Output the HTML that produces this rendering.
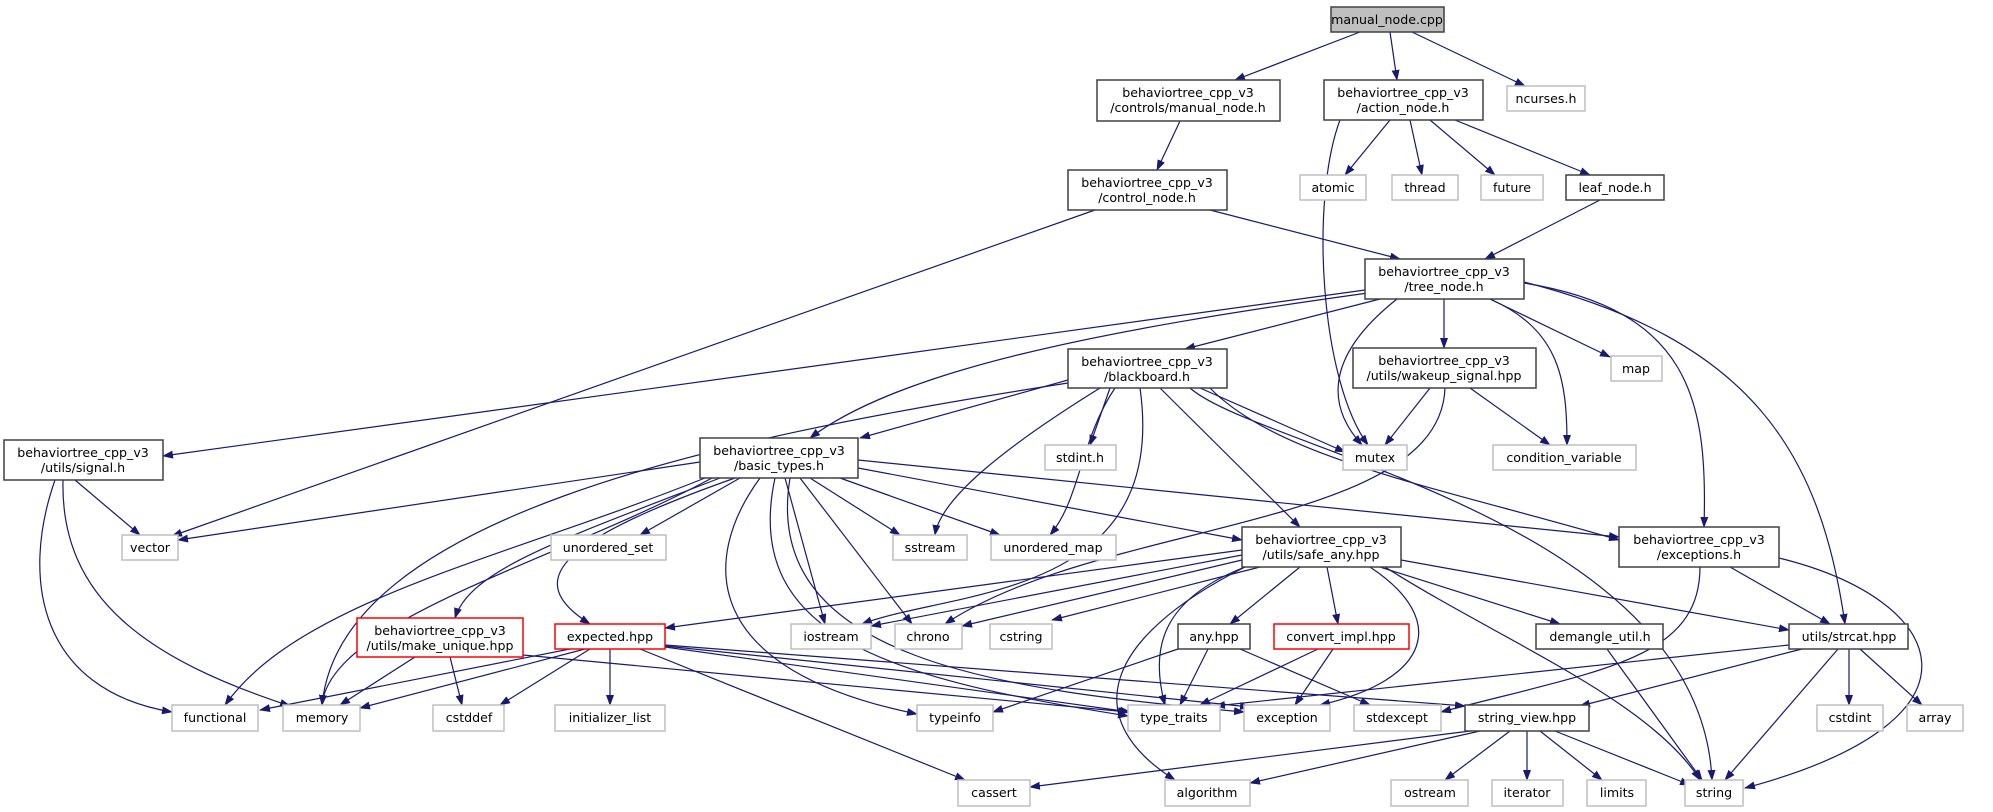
<!DOCTYPE html>
<html><head><meta charset="utf-8"><style>
html,body{margin:0;padding:0;background:#fff;}
svg{display:block;}
text{font-family:"DejaVu Sans","Liberation Sans",sans-serif;font-size:12.6px;fill:#000;text-anchor:middle;}
.e{fill:none;stroke:#191970;stroke-width:1.2;marker-end:url(#a);}
.g{fill:#fff;stroke:#bfbfbf;stroke-width:1.5;}
.d{fill:#fff;stroke:#404040;stroke-width:1.5;}
.r{fill:#fff;stroke:#ff0000;stroke-width:1.5;}
</style></head><body>
<svg width="1993" height="812" viewBox="0 0 1993 812" xmlns="http://www.w3.org/2000/svg">
<defs><marker id="a" markerWidth="11" markerHeight="8" refX="10" refY="4" orient="auto" markerUnits="userSpaceOnUse"><path d="M0,0 L11,4 L0,8 z" fill="#191970"/></marker></defs>
<g>
<path class="e" d="M1360,32 L1235,80"/>
<path class="e" d="M1390,32 L1397,80"/>
<path class="e" d="M1412,32 L1525,86"/>
<path class="e" d="M1180,121 L1157,170"/>
<path class="e" d="M1095,210 L172,536"/>
<path class="e" d="M1210,210 L1400,259"/>
<path class="e" d="M1340,120 C1310,200 1320,380 1368,445"/>
<path class="e" d="M1390,120 L1345,175"/>
<path class="e" d="M1410,120 L1422,175"/>
<path class="e" d="M1430,120 L1495,175"/>
<path class="e" d="M1455,120 L1590,175"/>
<path class="e" d="M1600,200 L1485,259"/>
<path class="e" d="M1365,290 L163,456"/>
<path class="e" d="M1368,293 C1100,330 900,370 810,438"/>
<path class="e" d="M1380,299 L1185,349"/>
<path class="e" d="M1397,299 C1320,360 1330,410 1362,445"/>
<path class="e" d="M1444,299 L1444,348"/>
<path class="e" d="M1490,299 C1560,330 1567,380 1567,445"/>
<path class="e" d="M1490,299 L1610,357"/>
<path class="e" d="M1524,283 C1690,310 1708,400 1704,527"/>
<path class="e" d="M1524,282 C1750,340 1820,450 1845,624"/>
<path class="e" d="M1068,380 L860,438"/>
<path class="e" d="M1068,383 C700,440 340,520 322,705"/>
<path class="e" d="M1110,388 L1090,445"/>
<path class="e" d="M1100,388 C1000,450 940,500 935,535"/>
<path class="e" d="M1115,388 C1080,440 1080,500 1050,535"/>
<path class="e" d="M1200,388 L1345,452"/>
<path class="e" d="M1160,388 L1300,527"/>
<path class="e" d="M1210,388 C1280,460 1450,490 1619,540"/>
<path class="e" d="M1190,388 C1260,450 1700,520 1712,780"/>
<path class="e" d="M1140,388 C1170,600 950,590 862,624"/>
<path class="e" d="M1430,388 L1385,445"/>
<path class="e" d="M1470,388 L1550,445"/>
<path class="e" d="M1445,388 C1440,530 1100,520 945,624"/>
<path class="e" d="M75,480 L140,535"/>
<path class="e" d="M63,480 C60,600 150,660 290,706"/>
<path class="e" d="M55,480 C20,580 40,690 172,712"/>
<path class="e" d="M700,462 L178,540"/>
<path class="e" d="M740,478 L640,535"/>
<path class="e" d="M810,478 L900,535"/>
<path class="e" d="M840,478 L1000,535"/>
<path class="e" d="M785,478 L825,624"/>
<path class="e" d="M800,478 L912,624"/>
<path class="e" d="M858,468 L1242,540"/>
<path class="e" d="M858,460 L1619,537"/>
<path class="e" d="M735,478 C560,540 520,580 590,624"/>
<path class="e" d="M720,478 C560,540 470,570 455,618"/>
<path class="e" d="M705,478 C500,560 300,600 225,705"/>
<path class="e" d="M712,478 C560,560 330,620 322,705"/>
<path class="e" d="M760,478 C700,560 700,670 917,714"/>
<path class="e" d="M775,478 C740,640 900,680 1128,716"/>
<path class="e" d="M790,478 C760,660 1000,690 1244,712"/>
<path class="e" d="M1242,550 L665,628"/>
<path class="e" d="M1242,555 L871,626"/>
<path class="e" d="M1242,560 L962,626"/>
<path class="e" d="M1260,567 L1052,620"/>
<path class="e" d="M1300,567 L1230,624"/>
<path class="e" d="M1327,567 L1338,624"/>
<path class="e" d="M1380,567 L1560,624"/>
<path class="e" d="M1401,560 L1789,630"/>
<path class="e" d="M1245,567 C1160,600 1150,650 1165,705"/>
<path class="e" d="M1245,567 C1100,640 1080,720 1175,780"/>
<path class="e" d="M1370,567 C1450,620 1430,680 1320,705"/>
<path class="e" d="M1385,567 C1500,640 1650,700 1700,780"/>
<path class="e" d="M1730,567 L1830,624"/>
<path class="e" d="M1779,558 C1950,600 2000,720 1745,788"/>
<path class="e" d="M1700,567 C1700,660 1600,670 1441,712"/>
<path class="e" d="M1178,649 L993,712"/>
<path class="e" d="M1208,649 L1180,705"/>
<path class="e" d="M1240,649 L1370,705"/>
<path class="e" d="M1318,649 L1200,705"/>
<path class="e" d="M1333,649 L1295,705"/>
<path class="e" d="M1607,649 L1702,780"/>
<path class="e" d="M1802,649 L1580,706"/>
<path class="e" d="M1838,649 L1725,780"/>
<path class="e" d="M1849,649 L1849,705"/>
<path class="e" d="M1860,649 L1922,705"/>
<path class="e" d="M1789,645 L1215,706"/>
<path class="e" d="M415,657 L340,705"/>
<path class="e" d="M450,657 L462,705"/>
<path class="e" d="M523,655 L1128,712"/>
<path class="e" d="M570,649 L260,710"/>
<path class="e" d="M585,649 L360,708"/>
<path class="e" d="M590,649 L500,705"/>
<path class="e" d="M610,649 L610,705"/>
<path class="e" d="M640,649 L965,780"/>
<path class="e" d="M665,647 L1130,712"/>
<path class="e" d="M665,646 L1250,707"/>
<path class="e" d="M665,645 L1465,706"/>
<path class="e" d="M1470,731 L1030,787"/>
<path class="e" d="M1480,731 L1250,783"/>
<path class="e" d="M1510,731 L1445,780"/>
<path class="e" d="M1527,731 L1527,780"/>
<path class="e" d="M1540,731 L1602,780"/>
<path class="e" d="M1555,731 L1690,785"/>
</g>
<g>
<rect x="1331" y="7" width="113" height="25" fill="#bfbfbf" stroke="#404040" stroke-width="1.5"/><text x="1387" y="24">manual_node.cpp</text>
<rect class="d" x="1097" y="80" width="183" height="41"/><text x="1188" y="97">behaviortree_cpp_v3</text><text x="1188" y="112">/controls/manual_node.h</text>
<rect class="d" x="1324" y="80" width="159" height="40"/><text x="1403" y="97">behaviortree_cpp_v3</text><text x="1403" y="112">/action_node.h</text>
<rect class="g" x="1507" y="86" width="78" height="25"/><text x="1546" y="103">ncurses.h</text>
<rect class="d" x="1068" y="170" width="159" height="40"/><text x="1147" y="187">behaviortree_cpp_v3</text><text x="1147" y="202">/control_node.h</text>
<rect class="g" x="1300" y="175" width="66" height="25"/><text x="1333" y="192">atomic</text>
<rect class="g" x="1392" y="175" width="66" height="25"/><text x="1425" y="192">thread</text>
<rect class="g" x="1481" y="175" width="62" height="25"/><text x="1512" y="192">future</text>
<rect class="d" x="1566" y="175" width="98" height="25"/><text x="1615" y="192">leaf_node.h</text>
<rect class="d" x="1365" y="259" width="159" height="40"/><text x="1444" y="276">behaviortree_cpp_v3</text><text x="1444" y="291">/tree_node.h</text>
<rect class="g" x="1611" y="356" width="51" height="25"/><text x="1636" y="373">map</text>
<rect class="d" x="1068" y="349" width="159" height="39"/><text x="1147" y="366">behaviortree_cpp_v3</text><text x="1147" y="381">/blackboard.h</text>
<rect class="d" x="1353" y="348" width="183" height="40"/><text x="1444" y="365">behaviortree_cpp_v3</text><text x="1444" y="380">/utils/wakeup_signal.hpp</text>
<rect class="g" x="1343" y="445" width="64" height="25"/><text x="1375" y="462">mutex</text>
<rect class="g" x="1493" y="445" width="143" height="25"/><text x="1564" y="462">condition_variable</text>
<rect class="g" x="1045" y="445" width="71" height="25"/><text x="1080" y="462">stdint.h</text>
<rect class="d" x="700" y="438" width="158" height="40"/><text x="779" y="455">behaviortree_cpp_v3</text><text x="779" y="470">/basic_types.h</text>
<rect class="d" x="4" y="440" width="159" height="40"/><text x="83" y="457">behaviortree_cpp_v3</text><text x="83" y="472">/utils/signal.h</text>
<rect class="g" x="122" y="535" width="56" height="25"/><text x="150" y="552">vector</text>
<rect class="g" x="551" y="535" width="115" height="25"/><text x="608" y="552">unordered_set</text>
<rect class="g" x="893" y="535" width="74" height="25"/><text x="930" y="552">sstream</text>
<rect class="g" x="991" y="535" width="125" height="25"/><text x="1053" y="552">unordered_map</text>
<rect class="d" x="1242" y="527" width="159" height="40"/><text x="1321" y="544">behaviortree_cpp_v3</text><text x="1321" y="559">/utils/safe_any.hpp</text>
<rect class="d" x="1619" y="527" width="160" height="40"/><text x="1699" y="544">behaviortree_cpp_v3</text><text x="1699" y="559">/exceptions.h</text>
<rect class="r" x="357" y="618" width="166" height="39"/><text x="440" y="635">behaviortree_cpp_v3</text><text x="440" y="650">/utils/make_unique.hpp</text>
<rect class="r" x="555" y="624" width="110" height="25"/><text x="610" y="641">expected.hpp</text>
<rect class="g" x="791" y="624" width="80" height="25"/><text x="831" y="641">iostream</text>
<rect class="g" x="895" y="624" width="67" height="25"/><text x="928" y="641">chrono</text>
<rect class="g" x="990" y="624" width="62" height="25"/><text x="1021" y="641">cstring</text>
<rect class="d" x="1178" y="624" width="72" height="25"/><text x="1214" y="641">any.hpp</text>
<rect class="r" x="1274" y="624" width="135" height="25"/><text x="1341" y="641">convert_impl.hpp</text>
<rect class="d" x="1536" y="624" width="127" height="25"/><text x="1600" y="641">demangle_util.h</text>
<rect class="d" x="1789" y="624" width="119" height="25"/><text x="1849" y="641">utils/strcat.hpp</text>
<rect class="g" x="172" y="705" width="86" height="26"/><text x="215" y="722">functional</text>
<rect class="g" x="283" y="705" width="77" height="26"/><text x="322" y="722">memory</text>
<rect class="g" x="433" y="705" width="71" height="26"/><text x="469" y="722">cstddef</text>
<rect class="g" x="555" y="705" width="110" height="26"/><text x="610" y="722">initializer_list</text>
<rect class="g" x="917" y="705" width="76" height="26"/><text x="955" y="722">typeinfo</text>
<rect class="g" x="1128" y="705" width="92" height="26"/><text x="1174" y="722">type_traits</text>
<rect class="g" x="1244" y="705" width="86" height="26"/><text x="1287" y="722">exception</text>
<rect class="g" x="1354" y="705" width="87" height="26"/><text x="1397" y="722">stdexcept</text>
<rect class="d" x="1465" y="705" width="124" height="26"/><text x="1527" y="722">string_view.hpp</text>
<rect class="g" x="1817" y="705" width="66" height="26"/><text x="1850" y="722">cstdint</text>
<rect class="g" x="1907" y="705" width="56" height="26"/><text x="1935" y="722">array</text>
<rect class="g" x="958" y="780" width="72" height="26"/><text x="994" y="797">cassert</text>
<rect class="g" x="1165" y="780" width="85" height="26"/><text x="1207" y="797">algorithm</text>
<rect class="g" x="1391" y="780" width="77" height="26"/><text x="1430" y="797">ostream</text>
<rect class="g" x="1492" y="780" width="71" height="26"/><text x="1527" y="797">iterator</text>
<rect class="g" x="1587" y="780" width="59" height="26"/><text x="1617" y="797">limits</text>
<rect class="g" x="1685" y="780" width="58" height="26"/><text x="1714" y="797">string</text>
</g>
</svg>
</body></html>
